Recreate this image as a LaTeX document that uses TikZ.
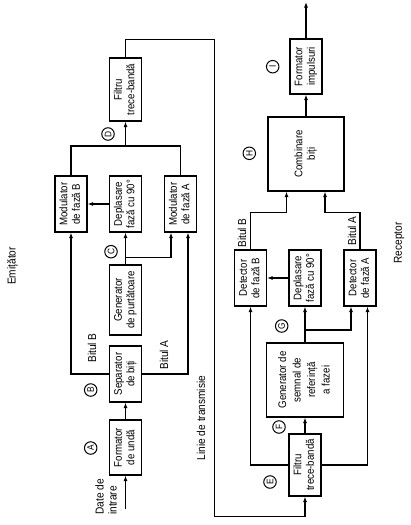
\documentclass[tikz,border=0pt]{standalone}
\usepackage{fontspec}
\setmainfont[FakeStretch=0.88]{Liberation Sans}
\usetikzlibrary{arrows.meta,calc}
\newcommand\rt[1]{\rotatebox{90}{\begin{tabular}{@{}c@{}}#1\end{tabular}}}
\begin{document}
\begin{tikzpicture}[x=1pt,y=-1pt,
  blk/.style={draw,line width=1.2pt,inner sep=0pt,font=\fontsize{11}{12.5}\selectfont},
  lbl/.style={circle,draw,line width=1pt,minimum size=12.5pt,inner sep=0pt,font=\fontsize{9.5}{10}\selectfont},
  txt/.style={inner sep=0pt,font=\fontsize{11.5}{13}\selectfont},
  ln/.style={line width=1.1pt},
  ar/.style={ln,-{Latex[length=5.5pt,width=4pt]}}]
\useasboundingbox (0,0) rectangle (410,525);

% Emitter blocks
\node[blk,minimum width=32pt,minimum height=55pt] (fu) at (125.5,447.5) {\rt{Formator\\de undă}};
\node[blk,minimum width=32pt,minimum height=56pt] (sep) at (125.5,374) {\rt{Separator\\de biți}};
\node[blk,minimum width=32pt,minimum height=70pt] (gen) at (125.5,300) {\rt{Generator\\de purtătoare}};
\node[blk,minimum width=32pt,minimum height=56pt] (dep) at (125.5,204) {\rt{Deplasare\\fază cu 90°}};
\node[blk,minimum width=32pt,minimum height=56pt] (modB) at (71,204) {\rt{Modulator\\de fază B}};
\node[blk,minimum width=32pt,minimum height=56pt] (modA) at (180.5,204) {\rt{Modulator\\de fază A}};
\node[blk,minimum width=32pt,minimum height=63pt] (filt) at (125.5,89.5) {\rt{Filtru\\trece-bandă}};

% Receiver blocks
\node[blk,minimum width=32pt,minimum height=62pt] (rfilt) at (305,465) {\rt{Filtru\\trece-bandă}};
\node[blk,minimum width=77pt,minimum height=74pt,font=\fontsize{11}{14.5}\selectfont] (rgen) at (305,380) {\rt{Generator de\\semnal de\\referință\\a fazei}};
\node[blk,minimum width=32pt,minimum height=56pt] (rdep) at (305,278) {\rt{Deplasare\\fază cu 90°}};
\node[blk,minimum width=32pt,minimum height=56pt] (detB) at (250.5,278) {\rt{Detector\\de fază B}};
\node[blk,minimum width=32pt,minimum height=56pt] (detA) at (360,278) {\rt{Detector\\de fază A}};
\node[blk,minimum width=76pt,minimum height=74pt] (comb) at (306,154) {\rt{Combinare\\biți}};
\node[blk,minimum width=32pt,minimum height=55pt] (fimp) at (306,66.5) {\rt{Formator\\impulsuri}};

% coordinates
\coordinate (in) at (125.5,509);
\coordinate (jD) at (125.5,146);
\coordinate (jC) at (125.5,257.3);
\coordinate (t1) at (125.5,39.3);
\coordinate (t2) at (214.5,39.3);
\coordinate (t3) at (214.5,516.7);
\coordinate (t4) at (305,516.7);
\coordinate (jG) at (305,330);
\coordinate (cbL) at ($(comb.south)+(-19.5,0)$);
\coordinate (cbR) at ($(comb.south)+(19,0)$);
\coordinate (out) at (306,2);

% Emitter connectors
\draw[ar] (in) -- (fu.south);
\draw[ar] (fu.north) -- (sep.south);
\draw[ar] (sep.west) -| (modB.south);
\draw[ar] (sep.east) -| ($(modA.south)+(7.5,0)$);
\draw[ar] (gen.north) -- (dep.south);
\draw[ar] (jC) -| ($(modA.south)+(-9.5,0)$);
\draw[ar] (dep.west) -- (modB.east);
\draw[ln] (modB.north) |- (jD) -| (modA.north);
\draw[ar] (jD) -- (filt.south);
\draw[ar] (filt.north) -- (t1) -- (t2) -- (t3) -- (t4) -- (rfilt.south);

% Receiver connectors
\draw[ar] (rfilt.west) -| (detB.south);
\draw[ar] (rfilt.east) -| ($(detA.south)+(7.5,0)$);
\draw[ar] (rfilt.north) -- (rgen.south);
\draw[ar] (rgen.north) -- (rdep.south);
\draw[ar] (jG) -| ($(detA.south)+(-9,0)$);
\draw[ar] (rdep.west) -- (detB.east);
\draw[ar] (detB.north) -- ++(0,-36.7) -| (cbL);
\draw[ar] (detA.north) -- ++(0,-36.7) -| (cbR);
\draw[ar] (comb.north) -- (fimp.south);
\draw[ar] (fimp.north) -- (out);

% circled letters
\node[lbl] (cA) at (90.7,448) {\rotatebox{90}{A}};
\node[lbl] (cB) at (90.7,390) {\rotatebox{90}{B}};
\node[lbl] (cC) at (111,251.7) {\rotatebox{90}{C}};
\node[lbl] (cD) at (108,134) {\rotatebox{90}{D}};
\node[lbl] (cE) at (270,482) {\rotatebox{90}{E}};
\node[lbl] (cF) at (279,427) {\rotatebox{90}{F}};
\node[lbl] (cG) at (281.7,326) {\rotatebox{90}{G}};
\node[lbl] (cH) at (249.3,153.3) {\rotatebox{90}{H}};
\node[lbl] (cI) at (272.7,66.7) {\rotatebox{90}{I}};

% text labels
\node[txt,rotate=90] (lBe) at (92,348) {Bitul B};
\node[txt,rotate=90] (lAe) at (164,355) {Bitul A};
\node[txt,rotate=90] (lBr) at (242,233) {Bitul B};
\node[txt,rotate=90] (lAr) at (352,231) {Bitul A};
\node[txt,rotate=90] (em) at (12.5,266) {Emițător};
\node[txt,rotate=90] (rc) at (399,243) {Receptor};
\node[txt,rotate=90] (lt) at (201,418) {Linie de transmisie};
\node[txt,rotate=90,align=left] (di) at (106,497) {Date de\\intrare};
\end{tikzpicture}
\end{document}
